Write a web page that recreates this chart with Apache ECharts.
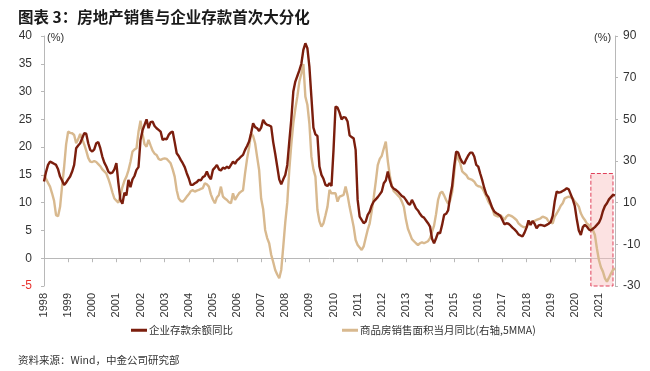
<!DOCTYPE html>
<html>
<head>
<meta charset="utf-8">
<script src="https://cdn.jsdelivr.net/npm/echarts@6/dist/echarts.min.js"></script>
<style>
html,body{margin:0;padding:0;background:#fff;}
#c{width:650px;height:371px;}
</style>
</head>
<body>
<div id="c"></div>
<script>
const startYear = 1998;
const yearLabels = ['1998','1999','2000','2001','2002','2003','2004','2005','2006','2007','2008','2009','2010','2011','2012','2013','2014','2015','2016','2017','2018','2019','2020','2021'];
const leftTicks = [-5,0,5,10,15,20,25,30,35,40];
const rightTicks = [-30,-10,10,30,50,70,90];

// 企业存款余额同比 (left axis, %)
const deposits = [
13.8,15.5,16.8,17.4,17.2,17.0,16.8,16.0,14.7,14.0,13.2,13.6,
14.2,14.7,15.6,16.8,19.8,20.3,20.7,21.6,22.5,22.4,20.7,19.5,
19.2,19.6,20.7,20.9,19.8,18.3,17.2,16.5,15.6,15.3,15.4,16.0,
17.1,13.5,10.5,9.8,11.8,11.3,14.1,12.8,14.2,14.8,15.9,16.4,
21.3,23.0,24.0,25.0,23.4,24.5,24.6,23.8,23.4,23.1,22.8,21.3,
21.5,21.4,22.2,22.6,22.8,20.9,18.9,18.4,17.7,17.1,16.4,15.3,
14.4,13.2,13.2,13.5,13.7,14.1,14.0,14.6,14.8,15.6,14.7,14.2,
15.9,16.3,16.8,16.0,15.8,16.3,16.1,16.5,16.2,16.8,17.4,17.0,
17.6,17.9,18.3,18.6,19.5,20.2,21.0,22.5,24.3,23.6,23.4,22.9,
23.5,24.9,24.3,24.0,23.9,23.7,20.9,18.8,16.5,14.2,13.3,14.2,
15.0,16.8,21.0,25.0,30.0,31.8,32.8,33.8,35.0,37.5,38.7,37.8,
34.5,29.0,23.5,22.3,22.0,16.5,15.0,14.3,13.2,13.0,13.5,13.0,
19.5,27.3,27.1,26.2,25.0,25.4,25.3,24.6,22.1,21.8,21.6,19.5,
10.5,7.5,6.9,6.3,6.6,7.8,8.4,9.5,10.2,10.6,11.0,11.5,
12.0,13.5,14.0,15.6,14.0,12.9,12.5,12.3,12.0,11.6,11.2,11.0,
10.5,9.9,9.6,10.5,9.8,9.0,8.6,8.0,7.5,7.3,6.8,6.3,
5.7,3.5,2.7,3.6,4.6,4.5,6.0,7.8,8.0,8.6,11.1,13.0,
16.5,19.2,19.0,18.0,17.3,17.0,17.8,18.5,19.0,19.0,18.3,16.8,
16.5,15.2,14.0,12.6,11.5,11.0,10.0,9.0,8.4,8.1,7.9,7.6,
6.9,6.1,6.3,6.2,5.9,5.5,5.2,4.8,4.3,4.1,3.9,4.6,
5.5,6.8,6.0,6.7,6.2,5.4,5.9,6.0,5.9,5.8,6.0,6.2,
6.5,7.6,10.2,12.0,11.8,11.9,12.1,12.3,12.6,12.4,11.5,10.6,
9.4,7.0,5.0,4.2,5.6,6.0,5.7,5.2,5.0,5.3,5.6,6.0,
6.4,7.2,8.5,9.4,9.9,10.6,11.0,11.4,11.3
];

// 商品房销售面积当月同比 (right axis, %, 5MMA)
const sales = [
23.5,21.5,19.5,17.7,14.5,11.0,4.0,3.5,8.0,18.0,27.0,38.0,
44.1,43.5,43.3,42.5,38.5,40.5,43.0,40.5,38.0,35.0,31.5,29.7,
29.5,30.0,29.5,28.5,27.5,26.0,25.0,24.0,21.5,18.5,15.0,12.0,
11.0,10.0,13.5,17.5,20.5,22.5,25.5,29.5,34.5,35.5,36.1,44.0,
49.3,43.0,38.0,36.9,40.1,37.5,35.0,33.5,32.9,31.0,30.5,31.0,
31.3,31.0,30.0,28.9,26.0,22.5,16.0,12.0,10.8,10.5,11.5,12.9,
14.0,15.5,16.0,15.3,15.8,16.1,16.6,17.0,19.3,18.8,17.7,14.0,
11.5,9.7,12.5,13.7,17.7,12.9,12.0,11.3,10.2,9.7,14.5,11.3,
13.0,14.5,15.3,16.0,24.1,31.0,36.5,43.3,42.0,38.5,32.0,25.7,
12.0,7.0,-3.1,-7.0,-9.5,-15.0,-18.5,-22.3,-24.5,-26.3,-22.3,-11.1,
0.5,10.0,25.7,38.0,48.1,55.0,60.9,68.0,72.0,76.5,60.9,57.0,
48.0,32.1,26.0,22.5,6.5,1.0,-1.5,0.1,4.0,8.1,16.1,14.5,
14.5,14.5,10.5,12.9,13.3,13.7,17.7,13.5,8.0,3.3,-1.5,-7.9,
-10.3,-11.5,-12.7,-11.0,-7.0,-3.0,0.1,6.0,12.5,20.0,28.0,31.0,
32.5,36.0,39.3,30.0,23.0,18.0,15.5,14.5,13.5,12.5,10.5,8.0,
2.0,-2.5,-5.0,-7.5,-8.5,-9.5,-10.3,-9.5,-9.0,-9.5,-9.0,-8.5,
-7.0,-4.0,-1.0,4.5,11.3,14.5,15.3,13.5,11.3,9.5,11.0,15.0,
24.0,33.5,31.0,29.0,25.0,24.1,23.3,21.7,21.3,20.9,20.1,18.5,
17.9,17.7,16.9,15.0,12.9,10.5,9.0,7.3,4.1,3.7,3.3,4.1,
3.0,1.7,3.3,4.1,3.8,3.3,2.5,1.7,0.1,-0.8,-1.5,-1.8,
-1.8,0.1,0.5,0.9,1.3,1.7,2.1,2.5,3.3,2.9,2.5,0.9,
0.5,0.1,3.3,4.8,6.5,8.5,9.7,12.1,12.5,12.9,12.5,12.1,
10.5,9.5,8.1,4.9,3.0,1.7,0.0,-0.7,-2.0,-3.1,-5.5,-12.0,
-17.5,-21.0,-23.1,-26.3,-27.9,-26.0,-24.0,-22.3,-21.5
];

// highlighted period (red dashed box)
const boxStart = '2020-09';
const boxEnd = '2021-08';
const boxTop = 24;

const months = [];
for (let i = 0; i < deposits.length; i++) {
  const y = startYear + Math.floor(i / 12);
  const m = (i % 12) + 1;
  months.push(y + '-' + (m < 10 ? '0' + m : m));
}
const isJan = (i, v) => v.slice(5) === '01' && yearLabels.indexOf(v.slice(0, 4)) >= 0;

const FONT = '"Liberation Sans", "Noto Sans CJK SC", sans-serif';
const AX = '#b8b8b8';
const TXT = '#333';

const chart = echarts.init(document.getElementById('c'), null, {renderer: 'canvas'});
chart.setOption({
  animation: false,
  textStyle: {fontFamily: FONT},
  grid: {left: 44, right: 35, top: 36, bottom: 85, containLabel: false},
  legend: [
    {data: ['企业存款余额同比'], left: 126, top: 320, icon: 'rect', itemWidth: 16, itemHeight: 3, itemGap: 0,
     textStyle: {fontSize: 10.5, color: TXT, fontFamily: '"Noto Sans CJK SC", sans-serif', padding: [0, 0, 0, -3]}},
    {data: ['商品房销售面积当月同比(右轴,5MMA)'], left: 337, top: 320, icon: 'rect', itemWidth: 16, itemHeight: 3,
     textStyle: {fontSize: 10.5, color: TXT, fontFamily: '"Noto Sans CJK SC", sans-serif', padding: [0, 0, 0, -3]}}
  ],
  xAxis: [
    {type: 'category', data: months, boundaryGap: false, position: 'bottom',
     axisLine: {show: false, onZero: false}, axisTick: {show: false},
     axisLabel: {interval: isJan, formatter: v => v.slice(0, 4), rotate: 90, fontSize: 11, color: TXT, margin: 7}},
    {type: 'category', data: months, boundaryGap: false, position: 'bottom',
     axisLine: {show: true, onZero: true, onZeroAxisIndex: 0, lineStyle: {color: AX, width: 1}},
     axisTick: {show: true, interval: isJan, length: 4, lineStyle: {color: AX}},
     axisLabel: {show: false}}
  ],
  yAxis: [
    {type: 'value', min: leftTicks[0], max: leftTicks[leftTicks.length - 1], interval: 5, position: 'left',
     axisLine: {show: true, lineStyle: {color: AX}}, axisTick: {show: true, length: 3, lineStyle: {color: AX}},
     splitLine: {show: false},
     axisLabel: {fontSize: 12, color: TXT, margin: 12,
       formatter: v => v < 0 ? '{r|' + v + '}' : String(v),
       rich: {r: {color: '#e8322e', fontSize: 12, fontFamily: FONT}}}},
    {type: 'value', min: rightTicks[0], max: rightTicks[rightTicks.length - 1], interval: 20, position: 'right',
     axisLine: {show: true, lineStyle: {color: AX}}, axisTick: {show: true, length: 3, lineStyle: {color: AX}},
     splitLine: {show: false},
     axisLabel: {fontSize: 12, color: TXT, margin: 8}}
  ],
  series: [
    {name: '企业存款余额同比', type: 'line', xAxisIndex: 0, yAxisIndex: 0, data: deposits,
     showSymbol: false, symbol: 'none', z: 4, color: '#7b1e0d',
     lineStyle: {color: '#7b1e0d', width: 2.4}},
    {name: '商品房销售面积当月同比(右轴,5MMA)', type: 'line', xAxisIndex: 0, yAxisIndex: 1, data: sales,
     showSymbol: false, symbol: 'none', z: 3, color: '#d8b98f',
     lineStyle: {color: '#d8b98f', width: 2.4},
     markArea: {silent: true,
       itemStyle: {color: 'rgba(248,190,190,0.45)', borderColor: '#e0405a', borderWidth: 1, borderType: 'dashed'},
       data: [[{xAxis: boxStart, yAxis: boxTop}, {xAxis: boxEnd, yAxis: rightTicks[0]}]]}}
  ],
  graphic: [
    {type: 'text', left: 18, top: 9, style: {text: '图表 3：房地产销售与企业存款首次大分化', fill: '#1a1a1a',
      font: 'bold 15.5px "Noto Sans CJK SC", sans-serif'}},
    {type: 'text', left: 47, top: 32, style: {text: '(%)', fill: TXT, font: '11px ' + FONT}},
    {type: 'text', left: 594, top: 32, style: {text: '(%)', fill: TXT, font: '11px ' + FONT}},
    {type: 'text', left: 18, top: 355, style: {text: '资料来源：Wind，中金公司研究部', fill: TXT,
      font: '10.5px "Noto Sans CJK SC", sans-serif'}}
  ]
});
</script>
</body>
</html>
